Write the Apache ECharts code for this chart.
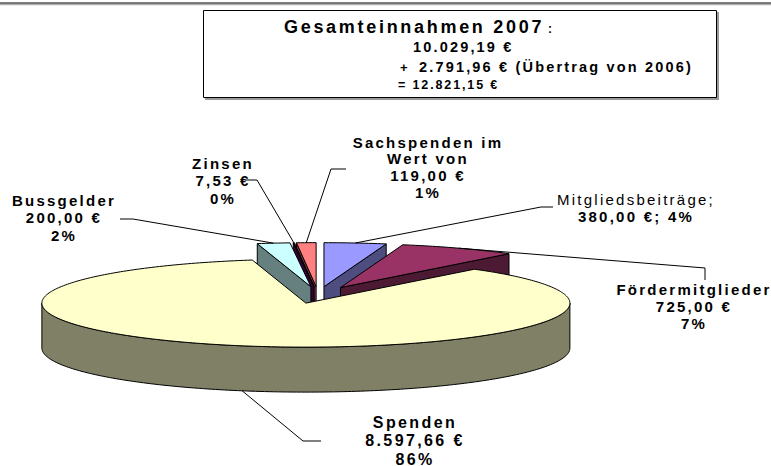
<!DOCTYPE html>
<html><head><meta charset="utf-8">
<script src="https://cdn.jsdelivr.net/npm/echarts@6/dist/echarts.min.js"></script>
<style>
html,body{margin:0;padding:0;background:#fff;}
#chart{width:771px;height:466px;}
#chart text{letter-spacing:0.15em;}
</style></head><body><div id="chart"></div>
<script>
// ---- data ----
const categories = ['Mitgliedsbeiträge', 'Fördermitglieder', 'Spenden', 'Bussgelder', 'Zinsen', 'Sachspenden im Wert von'];
const values = [380.00, 725.00, 8597.66, 200.00, 7.53, 119.00];
const carryOver = 2791.96;
const titleYear = 2007;
const carryYear = 2006;
const topColors = ['#9999FF', '#993366', '#FFFFCC', '#CCFFFF', '#660066', '#FF8080'];
const sideColors = ['#4D4D80', '#4D1A33', '#808066', '#668080', '#330033', '#804040'];
const drawOrder = [5, 4, 0, 3, 1, 2];

// ---- helpers ----
function fmtEuro(v) {
  const parts = v.toFixed(2).split('.');
  const intPart = parts[0].replace(/\B(?=(\d{3})+(?!\d))/g, '.');
  return intPart + ',' + parts[1] + ' €';
}
const total = values.reduce((a, b) => a + b, 0);
const pct = v => Math.round(v / total * 100) + '%';
const starts = [];
(function () { let acc = 0; values.forEach(v => { starts.push(acc / total * 360); acc += v; }); })();

// label lines built from data
const labelLines = values.map((v, i) => {
  if (i === 0) return [categories[i] + ';', fmtEuro(v) + '; ' + pct(v)];
  if (i === 5) return ['Sachspenden im', 'Wert von', fmtEuro(v), pct(v)];
  return [categories[i], fmtEuro(v), pct(v)];
});

// ---- layout (pixels) ----
const G = { cx: 318, cy: 295, rx: 264, ry: 44, t: 45, ex: 0.19 };
const FONT = "'Liberation Sans', Arial, sans-serif";
const labelLayout = [
  { x: 636, y0: 199, lh: 17, size: 15, weights: ['normal', 'bold'], elbow: [541, 207], end: [553, 207], az: 0 },
  { x: 694, y0: 289, lh: 17, size: 15, elbow: [705, 268], end: [705, 280], az: 0 },
  { x: 415, y0: 422, lh: 18.5, size: 16, elbow: [303, 441], end: [321, 441], az: 1 },
  { x: 64, y0: 200, lh: 17.5, size: 15, elbow: [133, 219], end: [120, 219], az: 0 },
  { x: 223, y0: 163, lh: 17.5, size: 15, elbow: [257, 180], end: [245, 180], az: 0 },
  { x: 428, y0: 142, lh: 16.7, size: 15, elbow: [331, 169], end: [346, 169], az: 0 }
];

const rad = d => d * Math.PI / 180;
function P(u, v, z) { return [G.cx + u * G.rx, G.cy - v * G.ry + z]; }

function renderItem(params, api) {
  const i = api.value(1);
  const a0 = starts[i];
  const a1 = a0 + api.value(0) / total * 360;
  const mid = (a0 + a1) / 2;
  const ou = G.ex * Math.sin(rad(mid)), ov = G.ex * Math.cos(rad(mid));
  const pt = (a, r, z) => P(ou + r * Math.sin(rad(a)), ov + r * Math.cos(rad(a)), z);
  const arc = (from, to, z) => {
    const n = Math.max(2, Math.ceil(to - from));
    const pts = [];
    for (let k = 0; k <= n; k++) pts.push(pt(from + (to - from) * k / n, 1, z));
    return pts;
  };
  const base = params.dataIndex * 10;
  const poly = (points, fill, z2) => ({
    type: 'polygon', z2: z2, silent: true,
    shape: { points: points },
    style: { fill: fill, stroke: '#000', lineWidth: 1, lineJoin: 'round' }
  });
  const ch = [];
  if (Math.sin(rad(a0)) < -1e-9) ch.push(poly([pt(a0, 0, 0), pt(a0, 1, 0), pt(a0, 1, G.t), pt(a0, 0, G.t)], sideColors[i], base + 1));
  if (Math.sin(rad(a1)) > 1e-9) ch.push(poly([pt(a1, 0, 0), pt(a1, 1, 0), pt(a1, 1, G.t), pt(a1, 0, G.t)], sideColors[i], base + 1));
  const w0 = Math.max(a0, 90), w1 = Math.min(a1, 270);
  if (w1 > w0) ch.push(poly(arc(w0, w1, 0).concat(arc(w0, w1, G.t).reverse()), sideColors[i], base + 2));
  ch.push(poly([pt(a0, 0, 0)].concat(arc(a0, a1, 0)), topColors[i], base + 3));

  // leader line + label
  const L = labelLayout[i];
  const anchor = pt(mid, 1, L.az * G.t);
  ch.push({
    type: 'polyline', z2: 1000, silent: true,
    shape: { points: [anchor, L.elbow, L.end] },
    style: { fill: null, stroke: '#000', lineWidth: 1 }
  });
  labelLines[i].forEach((line, k) => {
    const w = L.weights ? L.weights[k] : 'bold';
    ch.push({
      type: 'text', z2: 1001, silent: true,
      style: {
        text: line, x: L.x, y: L.y0 + k * L.lh,
        font: w + ' ' + L.size + 'px ' + FONT,
        fill: '#000', align: 'center', verticalAlign: 'middle',
        textAlign: 'center', textVerticalAlign: 'middle'
      }
    });
  });
  return { type: 'group', children: ch };
}

const chart = echarts.init(document.getElementById('chart'), null, { renderer: 'svg' });

const txt = (text, x, y, size) => ({
  type: 'text', silent: true,
  style: {
    text: text, x: x, y: y, font: 'bold ' + size + 'px ' + FONT, fill: '#000',
    align: 'left', verticalAlign: 'middle', textAlign: 'left', textVerticalAlign: 'middle'
  }
});

chart.setOption({
  animation: false,
  backgroundColor: '#fff',
  graphic: [
    { type: 'line', silent: true, shape: { x1: 0, y1: 4.5, x2: 771, y2: 4.5 }, style: { stroke: '#b0b0b0', lineWidth: 1.5 } },
    { type: 'line', silent: true, shape: { x1: 0, y1: 3, x2: 771, y2: 3 }, style: { stroke: '#000', lineWidth: 1.2 } },
    { type: 'rect', silent: true, shape: { x: 205, y: 12, width: 514, height: 88 }, style: { fill: '#9a9a9a' } },
    { type: 'rect', silent: true, shape: { x: 203.5, y: 10.5, width: 513, height: 87 }, style: { fill: '#fff', stroke: '#000', lineWidth: 1 } },
    txt('Gesamteinnahmen ' + titleYear, 284, 27, 18),
    txt(':', 548, 29, 12),
    txt(fmtEuro(total), 413, 47, 14.5),
    txt('+', 400, 67, 13),
    txt(fmtEuro(carryOver) + ' (Übertrag von ' + carryYear + ')', 419, 67, 14.5),
    txt('= ' + fmtEuro(total + carryOver), 398, 85, 12.5)
  ],
  series: [{
    type: 'custom',
    coordinateSystem: 'none',
    renderItem: renderItem,
    data: drawOrder.map(i => ({ name: categories[i], value: [values[i], i] }))
  }]
});
</script></body></html>
